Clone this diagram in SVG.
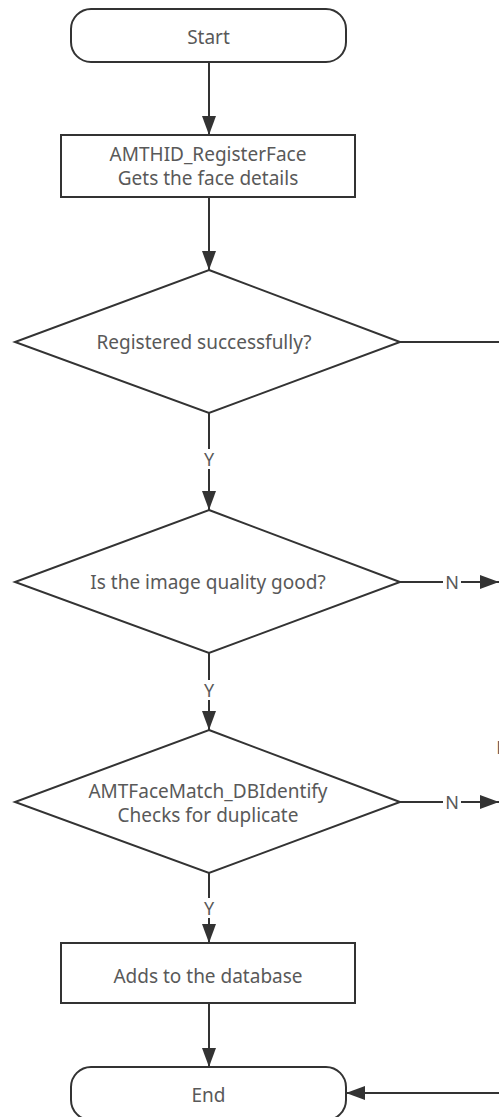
<svg xmlns="http://www.w3.org/2000/svg" width="499" height="1117" viewBox="0 0 499 1117">
<style>
.shape{fill:#fff;stroke:#333;stroke-width:2}
.line{fill:none;stroke:#333;stroke-width:2}
.t{font-family:"Noto Sans","Open Sans",sans-serif;font-size:19px;fill:#595959;text-anchor:middle;dominant-baseline:central}
.lbl{font-family:"Noto Sans","Open Sans",sans-serif;font-size:18px;fill:#595959;text-anchor:middle;dominant-baseline:central}
</style>
<defs>
<marker id="ah" markerWidth="20" markerHeight="14" refX="19" refY="7" orient="auto" markerUnits="userSpaceOnUse">
<path d="M0,0 L19,7 L0,14 Z" fill="#333"/>
</marker>
</defs>
<rect width="499" height="1117" fill="#fff"/>
<g id="connectors">
<line class="line" x1="209" y1="62" x2="209" y2="135" marker-end="url(#ah)"/>
<line class="line" x1="209" y1="197" x2="209" y2="270" marker-end="url(#ah)"/>
<line class="line" x1="400" y1="342" x2="499" y2="342"/>
<line class="line" x1="209" y1="413" x2="209" y2="449"/>
<text class="lbl" x="209" y="459">Y</text>
<line class="line" x1="209" y1="469" x2="209" y2="510" marker-end="url(#ah)"/>
<line class="line" x1="400" y1="582" x2="443" y2="582"/>
<text class="lbl" x="452" y="582">N</text>
<line class="line" x1="461" y1="582" x2="499" y2="582" marker-end="url(#ah)"/>
<line class="line" x1="209" y1="653" x2="209" y2="680"/>
<text class="lbl" x="209" y="690">Y</text>
<line class="line" x1="209" y1="700" x2="209" y2="730" marker-end="url(#ah)"/>
<line class="line" x1="400" y1="802" x2="443" y2="802"/>
<text class="lbl" x="452" y="802">N</text>
<line class="line" x1="461" y1="802" x2="499" y2="802" marker-end="url(#ah)"/>
<text class="lbl" x="503" y="747">N</text>
<line class="line" x1="209" y1="873" x2="209" y2="898"/>
<text class="lbl" x="209" y="908">Y</text>
<line class="line" x1="209" y1="918" x2="209" y2="943" marker-end="url(#ah)"/>
<line class="line" x1="209" y1="1003" x2="209" y2="1067" marker-end="url(#ah)"/>
<line class="line" x1="499" y1="1093" x2="346" y2="1093" marker-end="url(#ah)"/>
</g>
<g id="start">
<rect class="shape" x="71" y="9" width="275" height="53" rx="20" ry="20"/>
<text class="t" x="208.5" y="37">Start</text>
</g>
<g id="register">
<rect class="shape" x="61" y="135" width="294" height="62"/>
<text class="t" x="208" y="154">AMTHID_RegisterFace</text>
<text class="t" x="208" y="178">Gets the face details</text>
</g>
<g id="registered">
<polygon class="shape" points="209,270 400,342 209,413 15,342"/>
<text class="t" x="204" y="342">Registered successfully?</text>
</g>
<g id="quality">
<polygon class="shape" points="209,510 400,582 209,653 15,582"/>
<text class="t" x="208" y="582">Is the image quality good?</text>
</g>
<g id="duplicate">
<polygon class="shape" points="209,730 400,802 209,873 15,802"/>
<text class="t" x="208" y="791">AMTFaceMatch_DBIdentify</text>
<text class="t" x="208" y="815">Checks for duplicate</text>
</g>
<g id="adddb">
<rect class="shape" x="61" y="943" width="294" height="60"/>
<text class="t" x="208" y="976">Adds to the database</text>
</g>
<g id="end">
<rect class="shape" x="71" y="1067" width="275" height="53" rx="20" ry="20"/>
<text class="t" x="208.5" y="1095">End</text>
</g>
</svg>
